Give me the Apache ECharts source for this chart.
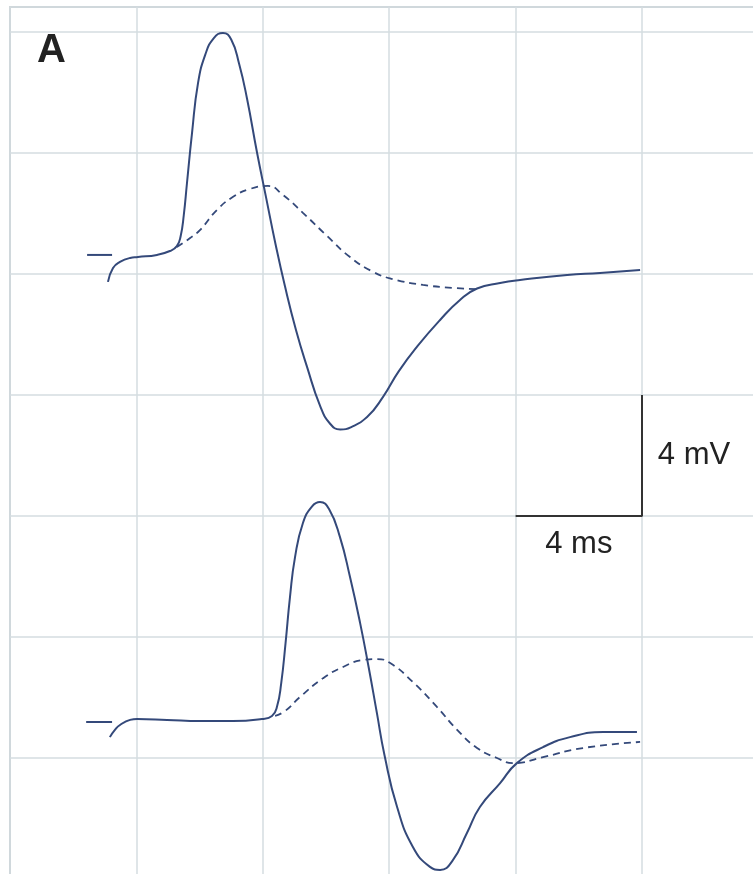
<!DOCTYPE html>
<html>
<head>
<meta charset="utf-8">
<style>
  html, body { margin: 0; padding: 0; background: #fff; }
  #chart { width: 753px; height: 874px; }
</style>
<script src="https://cdn.jsdelivr.net/npm/echarts@6/dist/echarts.min.js"></script>
</head>
<body>
<div id="chart"></div>
<script>
// time in ms, potential in mV (one grid cell = 4 ms x 4 mV)
var topSolid = [
  [3.10, 15.74], [3.26, 16.20], [3.48, 16.40], [3.80, 16.53], [4.05, 16.56],
  [4.65, 16.63], [5.06, 16.76], [5.28, 16.92], [5.40, 17.25], [5.50, 17.95],
  [5.60, 19.00], [5.76, 20.66], [5.95, 22.31], [6.18, 23.25],
  [6.45, 23.80], [6.74, 23.97], [7.00, 23.75], [7.25, 22.95],
  [7.50, 21.80], [7.82, 20.00], [8.10, 18.55], [8.40, 17.00],
  [8.70, 15.60], [9.05, 14.15], [9.40, 12.93], [9.81, 11.65], [10.13, 11.05],
  [10.45, 10.86], [10.80, 10.94], [11.30, 11.27], [11.80, 11.93], [12.30, 12.78],
  [12.90, 13.62], [13.61, 14.48], [14.24, 15.14], [14.78, 15.52], [15.51, 15.70],
  [16.14, 15.80], [17.63, 15.97], [18.67, 16.03], [19.94, 16.13]
];
var topDashed = [
  [5.28, 16.89], [5.70, 17.19], [6.01, 17.45], [6.55, 18.12], [7.06, 18.55],
  [7.59, 18.81], [8.16, 18.91], [8.64, 18.61], [9.27, 18.02], [10.03, 17.26],
  [10.76, 16.56], [11.49, 16.07], [12.12, 15.83], [13.07, 15.64], [14.02, 15.54],
  [14.78, 15.50]
];
var bottomSolid = [
  [3.16, 0.69], [3.32, 0.93], [3.48, 1.09], [3.80, 1.26], [4.02, 1.29],
  [4.97, 1.26], [6.01, 1.22], [7.06, 1.22], [7.97, 1.29], [8.29, 1.39],
  [8.45, 1.70], [8.58, 2.45], [8.72, 3.80], [8.86, 5.32], [9.02, 6.64],
  [9.27, 7.77], [9.56, 8.32], [9.81, 8.46], [10.10, 8.22], [10.44, 7.31],
  [10.76, 5.98], [11.08, 4.46], [11.35, 3.00], [11.61, 1.49], [11.85, 0.10],
  [12.25, -1.62], [12.75, -2.94], [13.29, -3.60], [13.61, -3.70], [14.02, -3.37],
  [14.46, -2.48], [14.87, -1.62], [15.51, -0.83], [16.04, -0.17], [16.87, 0.36],
  [17.72, 0.69], [18.77, 0.86], [19.84, 0.86]
];
var bottomDashed = [
  [8.39, 1.39], [8.70, 1.55], [9.18, 2.02], [9.91, 2.64], [10.54, 3.01],
  [11.17, 3.24], [11.61, 3.27], [12.03, 3.14], [12.75, 2.51], [13.51, 1.69],
  [14.15, 0.93], [14.78, 0.33], [15.41, 0.00], [15.92, -0.17], [16.87, 0.03],
  [18.13, 0.33], [19.94, 0.53]
];
// resting level markers
var topMarker = [[2.44, 16.63], [3.23, 16.63]];
var bottomMarker = [[2.41, 1.19], [3.23, 1.19]];
// calibration bar and its labels
var scaleBar = [[16, 8], [20, 8], [20, 12]];
var scaleLabels = [[20.5, 10, '4 mV', 'right'], [18, 7.05, '4 ms', 'inside']];

var traceColor = '#34497a';
var chart = echarts.init(document.getElementById('chart'));

function trace(data, dashed) {
  return {
    type: 'line',
    data: data,
    showSymbol: false,
    smooth: 0.5,
    silent: true,
    lineStyle: {
      color: traceColor,
      width: dashed ? 1.8 : 2,
      type: dashed ? [7, 5] : 'solid'
    }
  };
}

chart.setOption({
  animation: false,
  backgroundColor: '#fff',
  title: {
    text: 'A',
    left: 32,
    top: 26,
    textStyle: { fontSize: 40, fontWeight: 'bold', color: '#222', fontFamily: 'Liberation Sans' }
  },
  grid: {
    left: 10, top: 7, width: 758.4, height: 872,
    outerBoundsMode: 'none',
    show: true, borderColor: '#aeb9bd', borderWidth: 1.5
  },
  xAxis: {
    type: 'value', min: 0, max: 24, interval: 4,
    axisLine: { show: false }, axisTick: { show: false }, axisLabel: { show: false },
    splitLine: { show: true, lineStyle: { color: '#d5dde0', width: 1.5 } }
  },
  yAxis: {
    type: 'value', min: -4, max: 24.826, interval: 4,
    axisLine: { show: false }, axisTick: { show: false }, axisLabel: { show: false },
    splitLine: { show: true, lineStyle: { color: '#d5dde0', width: 1.5 } }
  },
  series: [
    trace(topSolid, false),
    trace(topDashed, true),
    trace(bottomSolid, false),
    trace(bottomDashed, true),
    trace(topMarker, false),
    trace(bottomMarker, false),
    {
      type: 'line', data: scaleBar, showSymbol: false, silent: true,
      lineStyle: { color: '#333', width: 2 }
    },
    {
      type: 'scatter', symbolSize: 0, silent: true,
      itemStyle: { opacity: 1 },
      data: scaleLabels.map(function (d) {
        return { value: [d[0], d[1]], name: d[2], label: { position: d[3] } };
      }),
      label: {
        show: true,
        formatter: '{b}',
        distance: 0,
        fontSize: 31,
        color: '#222',
        opacity: 1,
        fontFamily: 'Liberation Sans Narrow, Liberation Sans, sans-serif'
      }
    }
  ]
});
</script>
</body>
</html>
